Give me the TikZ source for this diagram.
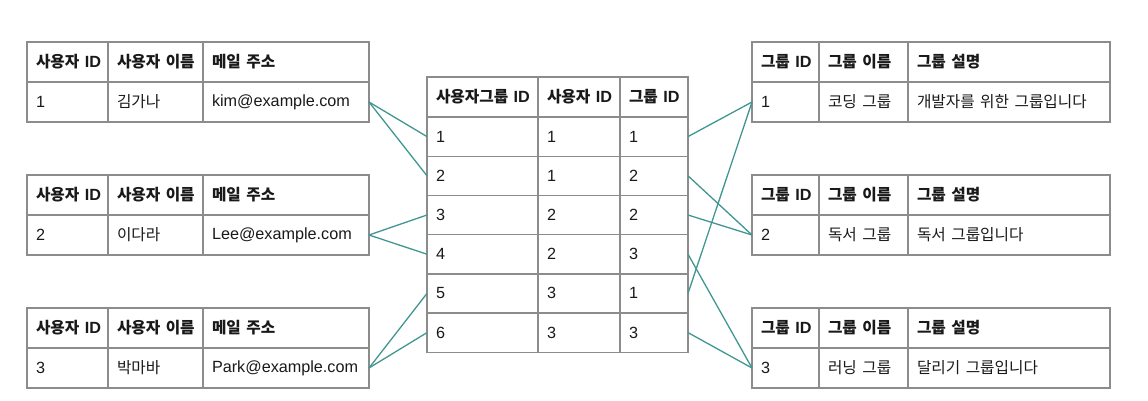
\documentclass[tikz,border=0pt]{standalone}
\usepackage{fontspec}
\setmainfont{Liberation Sans}
\newfontfamily\kr[Scale=0.97]{Noto Sans CJK KR}
\newcommand{\K}[1]{{\kr #1}}
\definecolor{gridgray}{RGB}{140,140,140}
\definecolor{txt}{RGB}{25,25,25}
\definecolor{teal}{RGB}{65,150,145}
\newcommand{\mkcell}[6]{%
  \pgfmathsetmacro\tw{#4-18}%
  \node[cellbox, minimum width=#4pt, minimum height=#5pt, text width=\tw pt] (#1) at (#2,#3) {\mbox{#6}};}
\begin{document}
\begin{tikzpicture}[x=1pt,y=-1pt,
  cellbox/.style={draw=gridgray, line width=1.4pt, anchor=north west, inner xsep=9pt, inner ysep=0pt, outer sep=0pt, align=left, text=txt, font=\fontsize{16.2}{19}\selectfont},
  link/.style={draw=teal, line width=1.3pt}]
\useasboundingbox (0,0) rectangle (1148,401);
% ---------- left user tables ----------
% table 1
\mkcell{L1h1}{27}{42}{81}{40}{\bfseries\K{사용자} ID}
\mkcell{L1h2}{108}{42}{95}{40}{\bfseries\K{사용자 이름}}
\mkcell{L1h3}{203}{42}{166}{40}{\bfseries\K{메일 주소}}
\mkcell{L1d1}{27}{82}{81}{40}{1}
\mkcell{L1d2}{108}{82}{95}{40}{\K{김가나}}
\mkcell{L1d3}{203}{82}{166}{40}{kim@example.com}
% table 2
\mkcell{L2h1}{27}{175}{81}{40}{\bfseries\K{사용자} ID}
\mkcell{L2h2}{108}{175}{95}{40}{\bfseries\K{사용자 이름}}
\mkcell{L2h3}{203}{175}{166}{40}{\bfseries\K{메일 주소}}
\mkcell{L2d1}{27}{215}{81}{40}{2}
\mkcell{L2d2}{108}{215}{95}{40}{\K{이다라}}
\mkcell{L2d3}{203}{215}{166}{40}{Lee@example.com}
% table 3
\mkcell{L3h1}{27}{308}{81}{40}{\bfseries\K{사용자} ID}
\mkcell{L3h2}{108}{308}{95}{40}{\bfseries\K{사용자 이름}}
\mkcell{L3h3}{203}{308}{166}{40}{\bfseries\K{메일 주소}}
\mkcell{L3d1}{27}{348}{81}{40}{3}
\mkcell{L3d2}{108}{348}{95}{40}{\K{박마바}}
\mkcell{L3d3}{203}{348}{166}{40}{Park@example.com}
% ---------- middle user-group table ----------
\mkcell{Mh1}{427}{77}{111}{40}{\bfseries\K{사용자그룹} ID}
\mkcell{Mh2}{538}{77}{82}{40}{\bfseries\K{사용자} ID}
\mkcell{Mh3}{620}{77}{68}{40}{\bfseries\K{그룹} ID}
\mkcell{M1c1}{427}{117}{111}{39.2}{1}
\mkcell{M1c2}{538}{117}{82}{39.2}{1}
\mkcell{M1c3}{620}{117}{68}{39.2}{1}
\mkcell{M2c1}{427}{156.2}{111}{39.2}{2}
\mkcell{M2c2}{538}{156.2}{82}{39.2}{1}
\mkcell{M2c3}{620}{156.2}{68}{39.2}{2}
\mkcell{M3c1}{427}{195.4}{111}{39.2}{3}
\mkcell{M3c2}{538}{195.4}{82}{39.2}{2}
\mkcell{M3c3}{620}{195.4}{68}{39.2}{2}
\mkcell{M4c1}{427}{234.6}{111}{39.2}{4}
\mkcell{M4c2}{538}{234.6}{82}{39.2}{2}
\mkcell{M4c3}{620}{234.6}{68}{39.2}{3}
\mkcell{M5c1}{427}{273.8}{111}{39.2}{5}
\mkcell{M5c2}{538}{273.8}{82}{39.2}{3}
\mkcell{M5c3}{620}{273.8}{68}{39.2}{1}
\mkcell{M6c1}{427}{313}{111}{39.2}{6}
\mkcell{M6c2}{538}{313}{82}{39.2}{3}
\mkcell{M6c3}{620}{313}{68}{39.2}{3}
% ---------- right group tables ----------
\mkcell{R1h1}{752}{42}{67}{40}{\bfseries\K{그룹} ID}
\mkcell{R1h2}{819}{42}{89}{40}{\bfseries\K{그룹 이름}}
\mkcell{R1h3}{908}{42}{202}{40}{\bfseries\K{그룹 설명}}
\mkcell{R1d1}{752}{82}{67}{40}{1}
\mkcell{R1d2}{819}{82}{89}{40}{\K{코딩 그룹}}
\mkcell{R1d3}{908}{82}{202}{40}{\K{개발자를 위한 그룹입니다}}
\mkcell{R2h1}{752}{175}{67}{40}{\bfseries\K{그룹} ID}
\mkcell{R2h2}{819}{175}{89}{40}{\bfseries\K{그룹 이름}}
\mkcell{R2h3}{908}{175}{202}{40}{\bfseries\K{그룹 설명}}
\mkcell{R2d1}{752}{215}{67}{40}{2}
\mkcell{R2d2}{819}{215}{89}{40}{\K{독서 그룹}}
\mkcell{R2d3}{908}{215}{202}{40}{\K{독서 그룹입니다}}
\mkcell{R3h1}{752}{308}{67}{40}{\bfseries\K{그룹} ID}
\mkcell{R3h2}{819}{308}{89}{40}{\bfseries\K{그룹 이름}}
\mkcell{R3h3}{908}{308}{202}{40}{\bfseries\K{그룹 설명}}
\mkcell{R3d1}{752}{348}{67}{40}{3}
\mkcell{R3d2}{819}{348}{89}{40}{\K{러닝 그룹}}
\mkcell{R3d3}{908}{348}{202}{40}{\K{달리기 그룹입니다}}
% ---------- connectors ----------
\draw[link] (L1d3.east) -- (M1c1.west);
\draw[link] (L1d3.east) -- (M2c1.west);
\draw[link] (L2d3.east) -- (M3c1.west);
\draw[link] (L2d3.east) -- (M4c1.west);
\draw[link] (L3d3.east) -- (M5c1.west);
\draw[link] (L3d3.east) -- (M6c1.west);
\draw[link] (M1c3.east) -- (R1d1.west);
\draw[link] (M5c3.east) -- (R1d1.west);
\draw[link] (M2c3.east) -- (R2d1.west);
\draw[link] (M3c3.east) -- (R2d1.west);
\draw[link] (M4c3.east) -- (R3d1.west);
\draw[link] (M6c3.east) -- (R3d1.west);
\end{tikzpicture}
\end{document}
